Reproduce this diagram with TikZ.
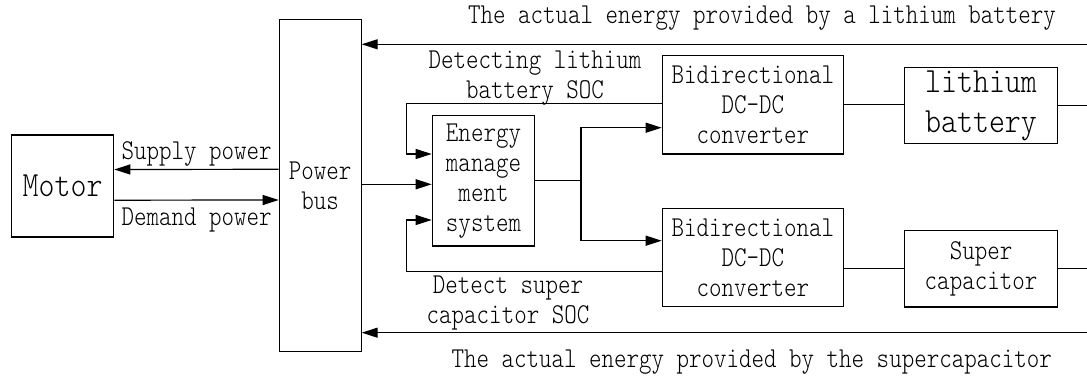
\documentclass[tikz,border=0pt]{standalone}
\usepackage{fontspec}
\usetikzlibrary{arrows.meta}
\newfontfamily\txtfont[FakeStretch=0.827]{Latin Modern Mono Light}
\newfontfamily\bigtxtfont[FakeStretch=0.86]{Latin Modern Mono Light}
\tikzset{
  blk/.style={draw,align=center,inner sep=0pt,font=\txtfont\fontsize{14.4}{15}\selectfont},
  bigblk/.style={blk,font=\bigtxtfont\fontsize{17.7}{20}\selectfont},
  lbl/.style={align=center,inner sep=0pt,font=\txtfont\fontsize{14.4}{15}\selectfont},
  arr/.style={-{Triangle[length=8pt,width=5pt]}},
}
\begin{document}
\begin{tikzpicture}[x=0.5pt,y=-0.5pt,line width=0.6pt]
\useasboundingbox (0,0) rectangle (1087,378);
\node[bigblk,minimum width=51pt,minimum height=51pt] (mot) at (62.7,186) {Motor};
\node[blk,minimum width=40.9pt,minimum height=165.9pt] (bus) at (320.2,185.8) {Power\\bus};
\node[blk,minimum width=51.2pt,minimum height=65.2pt] (ems) at (483.5,180.8) {Energy\\manage\\ment\\system};
\node[blk,minimum width=90.5pt,minimum height=49.2pt] (dcli) at (752.8,104.8) {Bidirectional\\DC-DC\\converter};
\node[blk,minimum width=90.5pt,minimum height=48.9pt] (dcsc) at (752.8,257.8) {Bidirectional\\DC-DC\\converter};
\node[bigblk,minimum width=76.7pt,minimum height=38.2pt] (li) at (981,105.5) {lithium\\battery};
\node[blk,minimum width=76.7pt,minimum height=38.2pt] (sc) at (981,268.8) {Super\\capacitor};
\coordinate (eR) at (1087,0);
\coordinate (tli) at (1087,44.3);
\coordinate (tsc) at (1087,332.7);
\draw[arr] ([yshift=8.25pt]bus.west) -- ([yshift=8.25pt]mot.east);
\draw[arr] ([yshift=-7.1pt]mot.east) -- ([yshift=-7.1pt]bus.west);
\path ([yshift=-1.75pt]ems.west) coordinate (ein);
\draw[arr] (ein -| bus.east) -- (ein);
\draw[arr] ([yshift=0.75pt]dcli.west) -- ++(-127.8pt,0pt) |- ([yshift=13.4pt]ems.west);
\draw[arr] ([yshift=-6.95pt]dcsc.west) -- ++(-127.8pt,0pt) |- ([yshift=-19.6pt]ems.west);
\draw (ems.east) -- ++(22.8pt,0pt) coordinate (spl);
\draw[arr] (spl) |- ([yshift=-11.45pt]dcli.west);
\draw[arr] (spl) |- ([yshift=8.55pt]dcsc.west);
\draw (dcli.east) -- (dcli.east -| li.west);
\draw (li.east) -- (li.east -| eR);
\draw (sc.west -| dcsc.east) -- (sc.west);
\draw (sc.east) -- (sc.east -| eR);
\draw[arr] (tli) -- (tli -| bus.east);
\draw[arr] (tsc) -- (tsc -| bus.east);
\node[lbl] (tlitxt) at (762,18.3) {The actual energy provided by a lithium battery};
\node[lbl] (detli) at (535,78.3) {Detecting lithium\\battery SOC};
\node[lbl] (sup) at (196.7,154) {Supply power};
\node[lbl] (dem) at (196.7,220) {Demand power};
\node[lbl] (detsc) at (508,303.3) {Detect super\\capacitor SOC};
\node[lbl] (tsctxt) at (751.7,361.7) {The actual energy provided by the supercapacitor};
\end{tikzpicture}
\end{document}
